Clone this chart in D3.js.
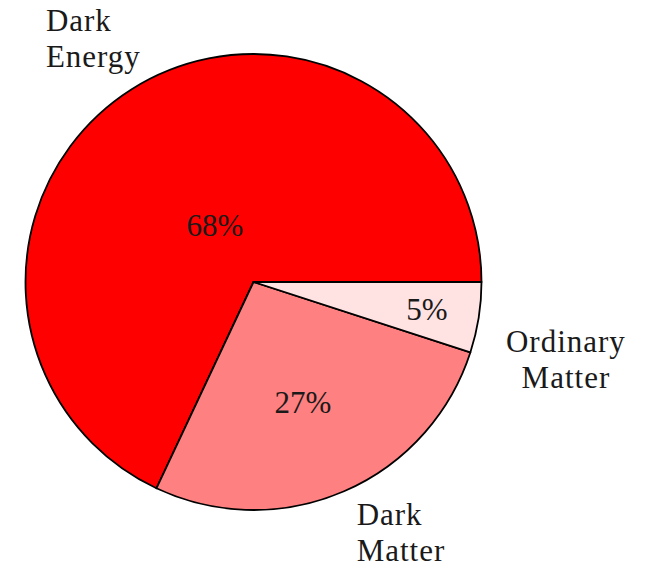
<!DOCTYPE html>
<html>
<head>
<title>Universe</title>
<meta charset="utf-8">
<style type="text/css">
body { margin: 0; background-color: #fff; }
svg text { font-family: "Liberation Serif", "DejaVu Serif", serif; fill: #1a1a1a; }
</style>
</head>
<body>
<svg id="pie"></svg>

<script src="https://d3js.org/d3.v7.min.js"></script>
<script type="text/javascript">
// data
const labels = [["Dark", "Energy"], ["Dark", "Matter"], ["Ordinary", "Matter"]];
const values = [68, 27, 5];
const colors = ["#ff0000", "#ff8080", "#ffe3e3"];

const WIDTH = 656;
const HEIGHT = 567;
const CX = 253.5, CY = 282, R = 228;
const FONT = 31;
const LINE = 36;

// label placement: [angle tweak in degrees, radius factor, anchor]
const PCT_POS = [[2, 0.30], [-1, 0.57], [0, 0.77]];
const NAME_POS = [[8, 1.405, "start"], [-1, 1.187, "start"], [-4.8, 1.411, "middle"]];

// pgf-pie style: start at east, go counter-clockwise
// d3 angles are clockwise from north, so start at 90deg and go negative
const pie = d3.pie()
    .sort(null)
    .startAngle(Math.PI / 2)
    .endAngle(Math.PI / 2 - 2 * Math.PI)
    .value(d => d);
const arcs = pie(values);

const arc = d3.arc().innerRadius(0).outerRadius(R);

const svg = d3.select("#pie")
    .attr("width", WIDTH)
    .attr("height", HEIGHT);

const g = svg.append("g")
    .attr("transform", `translate(${CX},${CY})`);

g.selectAll("path.slice")
    .data(arcs)
    .join("path")
    .attr("class", "slice")
    .attr("d", arc)
    .attr("fill", (d, i) => colors[i])
    .attr("stroke", "#000")
    .attr("stroke-width", 1.8)
    .attr("stroke-linejoin", "round");

// point along the mid angle of a slice
function polar(d, tweak, k) {
    const a = (d.startAngle + d.endAngle) / 2 - tweak * Math.PI / 180;
    return [Math.sin(a) * R * k, -Math.cos(a) * R * k];
}

// percentages
g.selectAll("text.pct")
    .data(arcs)
    .join("text")
    .attr("class", "pct")
    .attr("text-anchor", "middle")
    .attr("dominant-baseline", "central")
    .attr("font-size", FONT)
    .attr("transform", (d, i) => `translate(${polar(d, PCT_POS[i][0], PCT_POS[i][1])})`)
    .text(d => d.value + "%");

// names
g.selectAll("text.name")
    .data(arcs)
    .join("text")
    .attr("class", "name")
    .attr("text-anchor", (d, i) => NAME_POS[i][2])
    .attr("font-size", FONT)
    .attr("letter-spacing", 1)
    .attr("transform", (d, i) => `translate(${polar(d, NAME_POS[i][0], NAME_POS[i][1])})`)
    .each(function (d, i) {
        const t = d3.select(this);
        labels[i].forEach((line, j) => {
            t.append("tspan")
                .attr("x", 0)
                .attr("y", (j - 0.5) * LINE)
                .attr("dy", "0.35em")
                .text(line);
        });
    });
</script>
</body>
</html>
